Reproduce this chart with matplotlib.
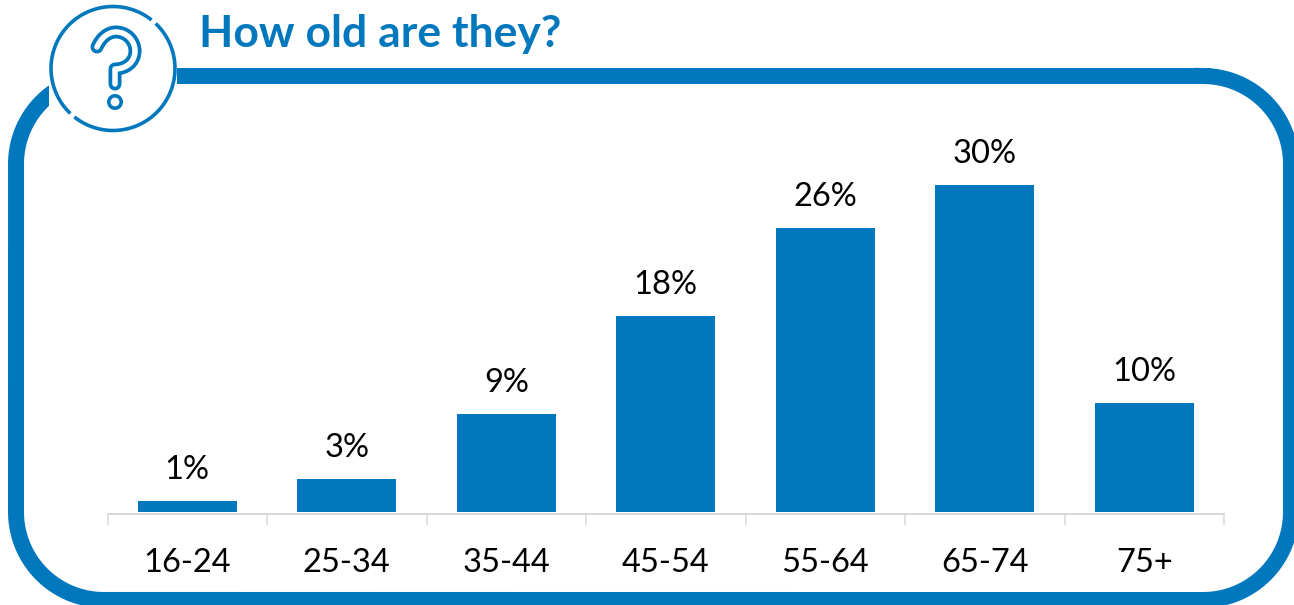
import numpy as np
import matplotlib
matplotlib.use("Agg")
import matplotlib.pyplot as plt
from matplotlib.patches import Rectangle, Circle, PathPatch
from matplotlib.path import Path

age_groups = ['16-24', '25-34', '35-44', '45-54', '55-64', '65-74', '75+']
shares = [1, 3, 9, 18, 26, 30, 10]

BLUE = '#0178BE'
GREY = '#D9D9D9'
W, H = 1294, 605
PX = 0.72  # one pixel in points at dpi 100

plt.rcParams['font.family'] = ['Lato', 'DejaVu Sans']

fig = plt.figure(figsize=(W / 100, H / 100), dpi=100, facecolor='white')

# layer in pixel coordinates for the frame and the icon
deco = fig.add_axes([0, 0, 1, 1])
deco.set_xlim(0, W)
deco.set_ylim(H, 0)
deco.axis('off')


def rounded_outline(x0, y0, x1, y1, rad):
    # closed outline with true circular corners, clockwise from the top left
    corners = [(x1 - rad, y0 + rad, -90), (x1 - rad, y1 - rad, 0),
               (x0 + rad, y1 - rad, 90), (x0 + rad, y0 + rad, 180)]
    xs, ys = [], []
    for ccx, ccy, a in corners:
        t = np.radians(np.linspace(a, a + 90, 60))
        xs.extend(ccx + rad * np.cos(t))
        ys.extend(ccy + rad * np.sin(t))
    return xs + xs[:1], ys + ys[:1]


fx, fy = rounded_outline(16, 76, 1291, 600, 88)
deco.plot(fx, fy, color=BLUE, lw=16 * PX, solid_joinstyle='round')
deco.add_patch(Rectangle((49, 55), 128, 80, facecolor='white', edgecolor='none', zorder=2))

# round icon with two small gaps in its outline
cx, cy, r = 113, 68.5, 62
for start, stop in [(-46.5, 128.5), (133.5, 308.5)]:
    t = np.radians(np.linspace(start, stop, 200))
    deco.plot(cx + r * np.cos(t), cy + r * np.sin(t), color=BLUE, lw=3.6 * PX, zorder=3,
              solid_capstyle='butt')

# question mark: thick blue stroke with a white core gives the outlined look
hook = Path([(97, 47), (101, 38), (108, 32), (116, 32),
             (127, 32), (135, 41), (135, 51),
             (135, 62), (126, 69), (115, 69),
             (115, 74), (115, 79), (115, 84)],
            [Path.MOVETO, Path.CURVE4, Path.CURVE4, Path.CURVE4,
             Path.CURVE4, Path.CURVE4, Path.CURVE4,
             Path.CURVE4, Path.CURVE4, Path.CURVE4,
             Path.LINETO, Path.LINETO, Path.LINETO])
for width, colour, z in [(13, BLUE, 3), (5.5, 'white', 4)]:
    deco.add_patch(PathPatch(hook, fill=False, edgecolor=colour, linewidth=width * PX, zorder=z,
                             capstyle='round', joinstyle='round'))
deco.add_patch(Circle((115, 102), 6.2, facecolor='white', edgecolor=BLUE,
                      linewidth=3.6 * PX, zorder=3))

deco.text(199, 34, 'How old are they?', color=BLUE, fontsize=32, fontweight='bold',
          ha='left', va='center')

# bar chart
left, right, base, top = 107.5, 1224, 512, 100
ax = fig.add_axes([left / W, 1 - base / H, (right - left) / W, (base - top) / H])
ax.patch.set_alpha(0)
x = np.arange(len(age_groups))
bars = ax.bar(x, shares, width=0.62, color=BLUE)
ax.set_xlim(-0.5, len(age_groups) - 0.5)
ax.set_ylim(0, (base - top) / 10.91)
ax.set_xticks(x, age_groups)
ax.set_xticks(np.arange(len(age_groups) + 1) - 0.5, minor=True)
ax.tick_params(axis='x', which='major', length=0, labelsize=23.5, pad=35 * PX, labelcolor='black')
ax.tick_params(axis='x', which='minor', length=11 * PX, width=1.5 * PX, color=GREY)
ax.set_yticks([])
for side in ['top', 'left', 'right']:
    ax.spines[side].set_visible(False)
ax.spines['bottom'].set_position(('outward', 1.5 * PX))
ax.spines['bottom'].set_color(GREY)
ax.spines['bottom'].set_linewidth(2 * PX)
ax.bar_label(bars, labels=[f'{v}%' for v in shares], fontsize=23.5, padding=16 * PX, color='black')

fig.savefig('out.png', dpi=100)
